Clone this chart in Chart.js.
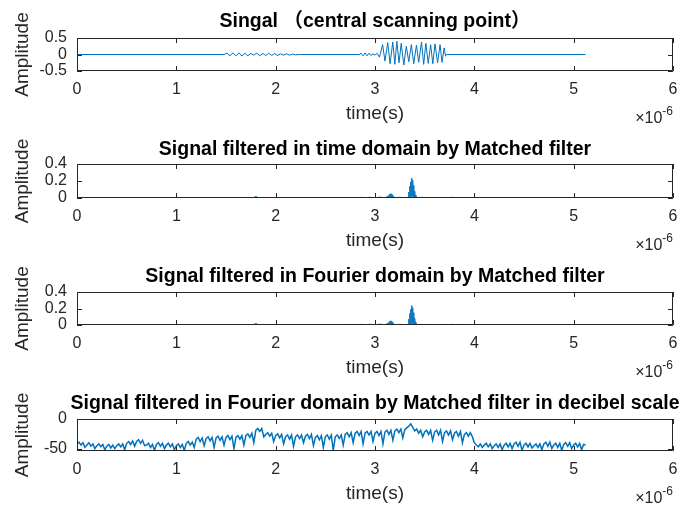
<!DOCTYPE html>
<html>
<head>
<meta charset="utf-8">
<script src="https://cdn.jsdelivr.net/npm/chart.js@4.4.0/dist/chart.umd.min.js"></script>
<style>
  body { margin: 0; background: #fff; }
  #fig { position: relative; width: 688px; height: 513px; overflow: hidden; background: #fff; }
  #fig canvas { position: absolute; left: 0; }
</style>
</head>
<body>
<div id="fig">
  <canvas id="c1"></canvas>
  <canvas id="c2"></canvas>
  <canvas id="c3"></canvas>
  <canvas id="c4"></canvas>
</div>
<script>
// time axis in microseconds (tick labels 0..6, x 10^-6 s)
const xTicks = [0, 1, 2, 3, 4, 5, 6];

// raw signal at the central scanning point
const sigTime = [0, 1.48, 1.51, 1.54, 1.57, 1.60, 1.63, 1.66, 1.69, 1.72, 1.75, 1.78, 1.81, 1.84, 1.87, 1.90,
  1.93, 1.96, 1.99, 2.02, 2.05, 2.08, 2.11, 2.14, 2.17, 2.20, 2.24,
  2.84, 2.86, 2.88, 2.90, 2.92, 2.94, 2.96, 2.98, 3.00, 3.02, 3.045,
  3.077, 3.10, 3.128, 3.152, 3.179, 3.20, 3.22, 3.242, 3.264, 3.29, 3.315, 3.34, 3.366, 3.39,
  3.417, 3.44, 3.468, 3.49, 3.512, 3.536, 3.56, 3.582, 3.604, 3.63, 3.655, 3.675, 3.696, 3.71, 3.72, 5.12];
const sigAmp = [0, 0, 0.04, -0.04, 0.05, -0.04, 0.05, -0.05, 0.04, -0.04, 0.03, -0.02, 0.04, -0.04, 0.03, -0.03,
  0.04, -0.03, 0.03, -0.03, 0.02, -0.02, 0.02, -0.02, 0.01, -0.01, 0,
  0, 0.04, -0.04, 0.05, -0.04, 0.04, -0.03, 0.02, -0.02, 0.04, -0.08,
  0.30, -0.20, 0.36, -0.28, 0.38, -0.30, 0.40, -0.25, 0.34, -0.32, 0.25, -0.22, 0.30, -0.28,
  0.28, -0.24, 0.38, -0.30, 0.34, -0.27, 0.30, -0.28, 0.32, -0.25, 0.30, -0.24, 0.20, -0.05, 0, 0];

// matched filter output (time domain and Fourier domain look the same)
const mfTime = [0, 1.78, 1.79, 1.795, 1.80, 1.805, 1.81, 1.815, 1.82, 1.83,
  2.70, 2.75, 2.80, 2.85, 2.90, 2.95, 3.00, 3.05, 3.10,
  3.13, 3.135, 3.14, 3.145, 3.15, 3.155, 3.16, 3.165, 3.17, 3.175, 3.18, 3.185, 3.19, 3.20,
  3.25, 3.30, 3.335, 3.34, 3.345, 3.35, 3.355, 3.36, 3.365, 3.37, 3.375, 3.38, 3.385, 3.39, 3.395, 3.40, 3.405, 3.41, 3.42,
  3.47, 3.52, 3.57, 3.62, 3.67, 3.72, 3.77, 3.82, 3.87, 3.92, 3.97, 4.02, 5.12];
const mfTimeAmp = [0.002, 0.002, 0.015, 0.002, 0.022, 0.003, 0.016, 0.002, 0.006, 0.002,
  0.002, 0.007, 0.002, 0.008, 0.002, 0.009, 0.002, 0.010, 0.002,
  0.02, 0.003, 0.035, 0.005, 0.048, 0.006, 0.052, 0.006, 0.045, 0.005, 0.03, 0.003, 0.015, 0.002,
  0.008, 0.002, 0.01, 0.07, 0.005, 0.14, 0.01, 0.19, 0.02, 0.235, 0.02, 0.21, 0.015, 0.15, 0.01, 0.08, 0.005, 0.035, 0.002,
  0.008, 0.002, 0.007, 0.002, 0.007, 0.002, 0.008, 0.002, 0.007, 0.002, 0.006, 0.002, 0.002];
const mfFourierAmp = mfTimeAmp.slice();

// decibel scale, one sample every 0.02 us (groups of 0.1 us)
const dbStep = 0.02;
const dbAmp = [
  -42, -39, -44, -40, -48,  -44, -40, -46, -42, -50,  -45, -42, -47, -43, -52,  -46, -43, -49, -44, -50,
  -45, -42, -47, -42, -52,  -41, -38, -43, -37, -46,  -38, -35, -41, -36, -45,  -44, -41, -48, -43, -53,
  -43, -40, -46, -41, -50,  -44, -41, -47, -42, -52,  -45, -42, -48, -43, -53,  -41, -38, -44, -39, -48,
  -34, -31, -38, -32, -45,  -33, -30, -37, -31, -48,  -32, -29, -36, -30, -44,  -31, -28, -35, -29, -50,
  -31, -28, -34, -28, -44,  -28, -25, -31, -24, -40,  -19, -16, -21, -16, -30,  -26, -23, -29, -24, -38,
  -28, -25, -32, -26, -42,  -30, -27, -34, -27, -46,  -30, -27, -33, -27, -40,  -29, -26, -33, -26, -45,
  -31, -28, -35, -28, -48,  -30, -27, -34, -27, -53,  -30, -27, -33, -27, -44,  -26, -23, -30, -23, -40,
  -24, -21, -28, -21, -42,  -24, -21, -27, -21, -38,  -24, -21, -28, -21, -42,  -22, -19, -26, -19, -36,
  -20, -17, -23, -17, -32,  -18, -15, -12, -8, -14,   -20, -17, -24, -19, -30,  -22, -19, -26, -19, -36,
  -22, -19, -27, -19, -38,  -23, -20, -27, -20, -35,  -24, -21, -29, -21, -40,  -26, -23, -29, -23, -30,
  -40, -44, -47, -42, -48,  -44, -41, -47, -42, -50,  -45, -42, -48, -42, -52,  -44, -41, -47, -41, -50,
  -42, -39, -46, -39, -53,  -44, -41, -47, -41, -49,  -45, -42, -48, -42, -52,  -42, -39, -46, -39, -50,
  -44, -41, -48, -41, -53,  -43, -40, -46, -40, -50,  -44, -41, -47, -41, -52,  -43, -44];
const dbTime = dbAmp.map((v, i) => +(i * dbStep).toFixed(2));

const yTicks1 = [-0.5, 0, 0.5];
const yTicks2 = [0, 0.2, 0.4];
const yTicks4 = [-50, 0];

const fontFam = '"Liberation Sans", Arial, "Noto Sans CJK SC", sans-serif';
const lineBlue = '#0072BD';
const axisGrey = '#262626';

function toPoints(xs, ys) {
  return xs.map((x, i) => ({ x: x, y: ys[i] }));
}

// box round the axes, ticks pointing inward, and the x10^-6 exponent
const matlabAxes = {
  id: 'matlabAxes',
  afterDraw(chart) {
    const { ctx, chartArea: a, scales: { x, y } } = chart;
    const tl = 5;
    ctx.save();
    ctx.strokeStyle = axisGrey;
    ctx.lineWidth = 1;
    ctx.beginPath();
    ctx.rect(Math.round(a.left) + 0.5, Math.round(a.top) + 0.5, Math.round(a.right - a.left) - 1, Math.round(a.bottom - a.top) - 1);
    x.ticks.forEach(t => {
      const px = Math.round(x.getPixelForValue(t.value)) + 0.5;
      ctx.moveTo(px, a.bottom); ctx.lineTo(px, a.bottom - tl);
      ctx.moveTo(px, a.top); ctx.lineTo(px, a.top + tl);
    });
    y.ticks.forEach(t => {
      const py = Math.round(y.getPixelForValue(t.value)) + 0.5;
      ctx.moveTo(a.left, py); ctx.lineTo(a.left + tl, py);
      ctx.moveTo(a.right, py); ctx.lineTo(a.right - tl, py);
    });
    ctx.stroke();

    ctx.fillStyle = axisGrey;
    ctx.textBaseline = 'middle';
    ctx.textAlign = 'right';
    ctx.font = '12px ' + fontFam;
    const expW = ctx.measureText('-6').width;
    ctx.fillText('-6', a.right, a.bottom + 41);
    ctx.font = '16px ' + fontFam;
    ctx.fillText('\u00d710', a.right - expW, a.bottom + 48);
    ctx.restore();
  }
};

function subplot(id, cfg) {
  const canvas = document.getElementById(id);
  const boxH = cfg.bottom - cfg.top;
  const above = 34;
  // canvas runs past the right edge, with an empty right axis, so the title centres on the box
  canvas.width = 750;
  canvas.height = above + boxH + 62;
  canvas.style.top = (cfg.top - above) + 'px';
  const titleLh = 19.5 * 1.2;

  new Chart(canvas, {
    type: 'line',
    data: {
      datasets: [{
        data: toPoints(cfg.xs, cfg.ys),
        borderColor: lineBlue,
        borderWidth: cfg.lw || 1,
        pointRadius: 0,
        tension: 0
      }]
    },
    options: {
      responsive: false,
      animation: false,
      events: [],
      layout: { padding: { left: 0, right: 0, top: above - cfg.gap - titleLh / 2, bottom: 9 } },
      plugins: {
        legend: { display: false },
        tooltip: { enabled: false },
        title: {
          display: true,
          text: cfg.title,
          color: '#000',
          font: { family: fontFam, size: 19.5, weight: 'bold', lineHeight: 1.2 },
          padding: { top: 0, bottom: cfg.gap - titleLh / 2 }
        }
      },
      scales: {
        x: {
          type: 'linear',
          min: 0,
          max: 6,
          grid: { display: false, drawTicks: false },
          border: { display: false },
          afterBuildTicks: s => { s.ticks = xTicks.map(v => ({ value: v })); },
          afterFit: s => { s.height = 54; },
          ticks: { autoSkip: false, maxRotation: 0, padding: 9, color: axisGrey, font: { family: fontFam, size: 16 } },
          title: { display: true, text: 'time(s)', color: axisGrey, font: { family: fontFam, size: 19 }, padding: 0 }
        },
        y: {
          min: cfg.ymin,
          max: cfg.ymax,
          grid: { display: false, drawTicks: false },
          border: { display: false },
          afterBuildTicks: s => { s.ticks = cfg.yTicks.map(v => ({ value: v })); },
          afterFit: s => { s.width = 77; },
          ticks: { autoSkip: false, padding: 10, color: axisGrey, font: { family: fontFam, size: 16 } },
          title: { display: true, text: 'Amplitude', color: axisGrey, font: { family: fontFam, size: 19 }, padding: { top: 11, bottom: 0 } }
        },
        yRight: {
          position: 'right',
          min: cfg.ymin,
          max: cfg.ymax,
          grid: { display: false, drawTicks: false },
          border: { display: false },
          ticks: { display: false },
          afterFit: s => { s.width = 77; }
        }
      }
    },
    plugins: [matlabAxes]
  });
}

subplot('c1', { top: 38, bottom: 72, gap: 16, title: 'Singal \uff08central scanning point\uff09',
  xs: sigTime, ys: sigAmp, ymin: -0.5, ymax: 0.5, yTicks: yTicks1 });
subplot('c2', { top: 164, bottom: 199, gap: 14, title: 'Signal filtered in time domain by Matched filter',
  xs: mfTime, ys: mfTimeAmp, ymin: 0, ymax: 0.4, yTicks: yTicks2 });
subplot('c3', { top: 292, bottom: 326, gap: 15, title: 'Signal filtered in Fourier domain by Matched filter',
  xs: mfTime, ys: mfFourierAmp, ymin: 0, ymax: 0.4, yTicks: yTicks2 });
subplot('c4', { top: 419, bottom: 452, gap: 15, title: 'Signal filtered in Fourier domain by Matched filter in decibel scale',
  xs: dbTime, ys: dbAmp, ymin: -54, ymax: 0, yTicks: yTicks4, lw: 1.5 });
</script>
</body>
</html>
